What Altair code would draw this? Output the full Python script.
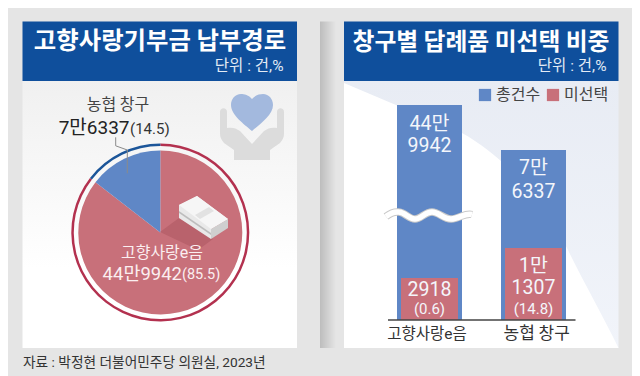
import altair as alt
import pandas as pd

# ---- data
channels = ["고향사랑e음", "농협 창구"]
totals = [449942, 76337]
unselected = [2918, 11307]
series_names = ["총건수", "미선택"]

title_left = "고향사랑기부금 납부경로"
title_right = "창구별 답례품 미선택 비중"
unit_text = "단위 : 건,%"
source_text = "자료 : 박정현 더불어민주당 의원실, 2023년"
pie_small = ["농협 창구", "7만6337", "(14.5)"]
pie_big = ["고향사랑e음", "44만9942", "(85.5)"]
total_labels = [["44만", "9942"], ["7만", "6337"]]
unsel_labels = [["2918", "(0.6)"], ["1만", "1307", "(14.8)"]]

# ---- style
BLUE, RED = "#5f87c6", "#c8707a"
RING_BLUE, RING_RED = "#1b5599", "#b3314f"
HEAD = "#0f4f9c"
KR = "Noto Sans CJK KR"
NARROW = "Roboto, Noto Sans CJK KR"
OFF = 8
one = alt.Data(values=[{"a": 1}])


def px(v):
    return alt.value(v - OFF)


def rect(x0, x1, y0, y1, color):
    return alt.Chart(one).mark_rect(color=color).encode(
        x=px(x0), x2=px(x1), y=px(y0), y2=px(y1))


def shape(path, ax, ay, fill=None, stroke=None, sw=1.0):
    kw = dict(shape=path, size=4, opacity=1)
    if fill:
        kw.update(filled=True, fill=fill, strokeWidth=0)
    else:
        kw.update(filled=False, stroke=stroke, strokeWidth=sw)
    return alt.Chart(one).mark_point(**kw).encode(x=px(ax), y=px(ay))


def text(s, x, y, size, color="#333333", align="center", weight="normal", font=NARROW):
    return alt.Chart(alt.Data(values=[{"t": s}])).mark_text(
        align=align, baseline="middle", fontSize=size, color=color,
        fontWeight=weight, font=font).encode(
        x=px(x), y=px(y), text="t:N")


def vgrad(c0, c1, y1=1.0):
    return alt.LinearGradient(gradient="linear", x1=0, x2=0, y1=0, y2=y1,
                              stops=[alt.GradientStop(color=c0, offset=0),
                                     alt.GradientStop(color=c1, offset=1)])


hgrad = alt.LinearGradient(gradient="linear", x1=0, x2=1, y1=0, y2=0,
                           stops=[alt.GradientStop(color="#bdbdbd", offset=0),
                                  alt.GradientStop(color="#e5e5e5", offset=1)])

layers = []

# panels
layers += [
    rect(22.5, 297, 81, 348, vgrad("#f0f0f0", "#ffffff", 0.7)),
    rect(22.5, 297, 21.5, 81, HEAD),
    rect(320, 336, 21.5, 348, hgrad),
    rect(344, 618.5, 81, 348, vgrad("#e8ecf4", "#f1f4fa")),
    shape("M344,83 L462,133 C510,160 545,205 567,248 C585,285 600,310 618.5,348 L344,348 Z",
          0, 0, fill="#ffffff"),
    rect(344, 618.5, 21.5, 81, HEAD),
]

# bars
df_total = pd.DataFrame({"channel": channels, "v": totals, "series": series_names[0]})
df_unsel = pd.DataFrame({"channel": channels, "v": unselected, "series": series_names[1]})
xs = alt.X("channel:N", axis=None, sort=channels,
           scale=alt.Scale(type="band", domain=channels, range=[377.5 - OFF, 585.5 - OFF],
                           paddingInner=0, paddingOuter=0))
ys = alt.Y("v:Q", axis=None, stack=None,
           scale=alt.Scale(domain=[0, 2918, 11307, 76337, 449942],
                           range=[320 - OFF, 278 - OFF, 248 - OFF, 150 - OFF, 105 - OFF],
                           nice=False, zero=False))
cs = alt.Color("series:N", sort=series_names,
               scale=alt.Scale(domain=series_names, range=[BLUE, RED]),
               legend=alt.Legend(title=None, orient="none", direction="horizontal",
                                 legendX=479 - OFF - 2, legendY=87 - OFF,
                                 symbolType="square", symbolSize=150, symbolStrokeWidth=0,
                                 symbolOpacity=1, labelFont=KR, labelFontSize=16,
                                 labelColor="#444444", labelOffset=3, columnPadding=4))
bars = alt.layer(
    alt.Chart(df_total).mark_bar(size=65, opacity=1).encode(x=xs, y=ys, color=cs),
    alt.Chart(df_unsel).mark_bar(size=57, opacity=1).encode(x=xs, y=ys, color=cs),
)
layers.append(bars)

# axis break
wave = ("M-43,1 C-38,-3 -34,-4 -30,-3.5 C-24,-3 -20,3.5 -14,3.5 C-8,3.5 -4,-3.5 3,-3.5 "
        "C10,-3.5 14,3.5 22,3.5 C30,3.5 36,-3 43,-1")
layers += [
    shape(wave, 429, 215.5, stroke="#c9c9c9", sw=7.5),
    shape(wave, 429, 215.5, stroke="#ffffff", sw=5.5),
    rect(388, 575.5, 319.3, 320.8, "#444444"),
]

# pie
df_pie = pd.DataFrame({"channel": channels, "v": totals})
pie_scale = alt.Scale(domain=channels, range=[RED, BLUE])
ring_scale = alt.Scale(domain=channels, range=[RING_RED, RING_BLUE])
pie = alt.Chart(df_pie).mark_arc(innerRadius=0, outerRadius=82, opacity=1).encode(
    theta=alt.Theta("v:Q"), x=px(160.3), y=px(232.5),
    color=alt.Color("channel:N", scale=pie_scale, legend=None))
ring = alt.Chart(df_pie).mark_arc(innerRadius=86.5, outerRadius=89, opacity=1).encode(
    theta=alt.Theta("v:Q"), x=px(160.3), y=px(232.5),
    color=alt.Color("channel:N", scale=ring_scale, legend=None))
layers += [pie, ring]

# decoration: leader, hands, heart, money
layers += [
    shape("M0,0 L0,8.5 L11.6,12.7 L11.6,36", 115.7, 137.3, stroke="#8a8a8a", sw=1),
    shape("M-32,2 C-32,-3 -25,-3 -25,2 L-25,18 C-20,17 -16,18 -12,21 L0,34 L12,21 "
          "C16,18 20,17 25,18 L25,2 C25,-3 32,-3 32,2 L32,24 C32,28 30,30 28,33 L18,40 "
          "L18,50 L-18,50 L-18,40 L-28,33 C-30,30 -32,28 -32,24 Z",
          252, 110, fill="#dcdcdc"),
    shape("M0,-11 C-3,-15 -8,-16 -11,-16 C-17,-16 -21,-11 -21,-5 C-21,5 -8,14 0,21 "
          "C8,14 21,5 21,-5 C21,-11 17,-16 11,-16 C8,-16 3,-15 0,-11 Z",
          252, 110, fill="#a3b9de"),
    shape("M160,232 L179,218 L213,239 L198,250 Z", 0, 0, fill="#b9626c"),
    shape("M179,205 L197,196 L228,219 L211,229 L211,239 L179,218 Z", 0, 0, fill="#e9e9e9"),
    shape("M211,229 L228,219 L228,228 L211,239 Z", 0, 0, fill="#cfcfcf"),
    shape("M179,205 L197,196 L228,219 L211,229 Z", 0, 0, fill="#f6f6f6"),
    shape("M179,211 L211,233 L211,235 L179,213 Z", 0, 0, fill="#bdbdbd"),
    shape("M195,215 L209,207 L214,211 L200,219 Z", 0, 0, fill="#e2e2e2"),
]

# header text
layers += [
    text(title_left, 160, 41.5, 24.4, "#ffffff", weight="bold", font=KR),
    text(unit_text, 283.5, 66, 15.5, "#e3ebf5", align="right"),
    text(title_right, 481, 43, 23.8, "#ffffff", weight="bold", font=KR),
    text(unit_text, 606.5, 66, 15.5, "#e3ebf5", align="right"),
]

# pie labels
layers += [
    text(pie_small[0], 118, 105, 16, "#444444", font=KR),
    text(pie_small[1], 129.5, 127.5, 19, "#222222", align="right"),
    text(pie_small[2], 130, 128.5, 15, "#333333", align="left"),
    text(pie_big[0], 162, 252.5, 16, "#fbeef0"),
    text(pie_big[1], 182, 274, 18.5, "#fbeef0", align="right"),
    text(pie_big[2], 182, 275, 14.5, "#fbeef0", align="left"),
]

# bar labels
W = "#f4f6fb"
layers += [
    text(total_labels[0][0], 429.5, 124, 19.5, W),
    text(total_labels[0][1], 429.5, 145.7, 19.5, W),
    text(total_labels[1][0], 533.5, 168, 19.5, W),
    text(total_labels[1][1], 533.5, 192, 19.5, W),
    text(unsel_labels[0][0], 429.5, 290, 19.5, W),
    text(unsel_labels[0][1], 429.5, 309, 15, W),
    text(unsel_labels[1][0], 533.5, 266, 19.5, W),
    text(unsel_labels[1][1], 533.5, 288, 19.5, W),
    text(unsel_labels[1][2], 533.5, 309, 15, W),
    text(channels[0], 427, 334, 15.5, "#333333"),
    text(channels[1], 536.7, 334, 17, "#333333", font=KR),
    text(source_text, 23, 362.5, 13.7, "#333333", align="left"),
]

chart = alt.layer(*layers).resolve_scale(color="independent").properties(
    width=624, height=368, padding=0, background="#e5e5e5",
    autosize=alt.AutoSizeParams(type="none")
).configure_view(stroke=None)

chart.save("out.html", embed_options={"renderer": "svg", "actions": False})
